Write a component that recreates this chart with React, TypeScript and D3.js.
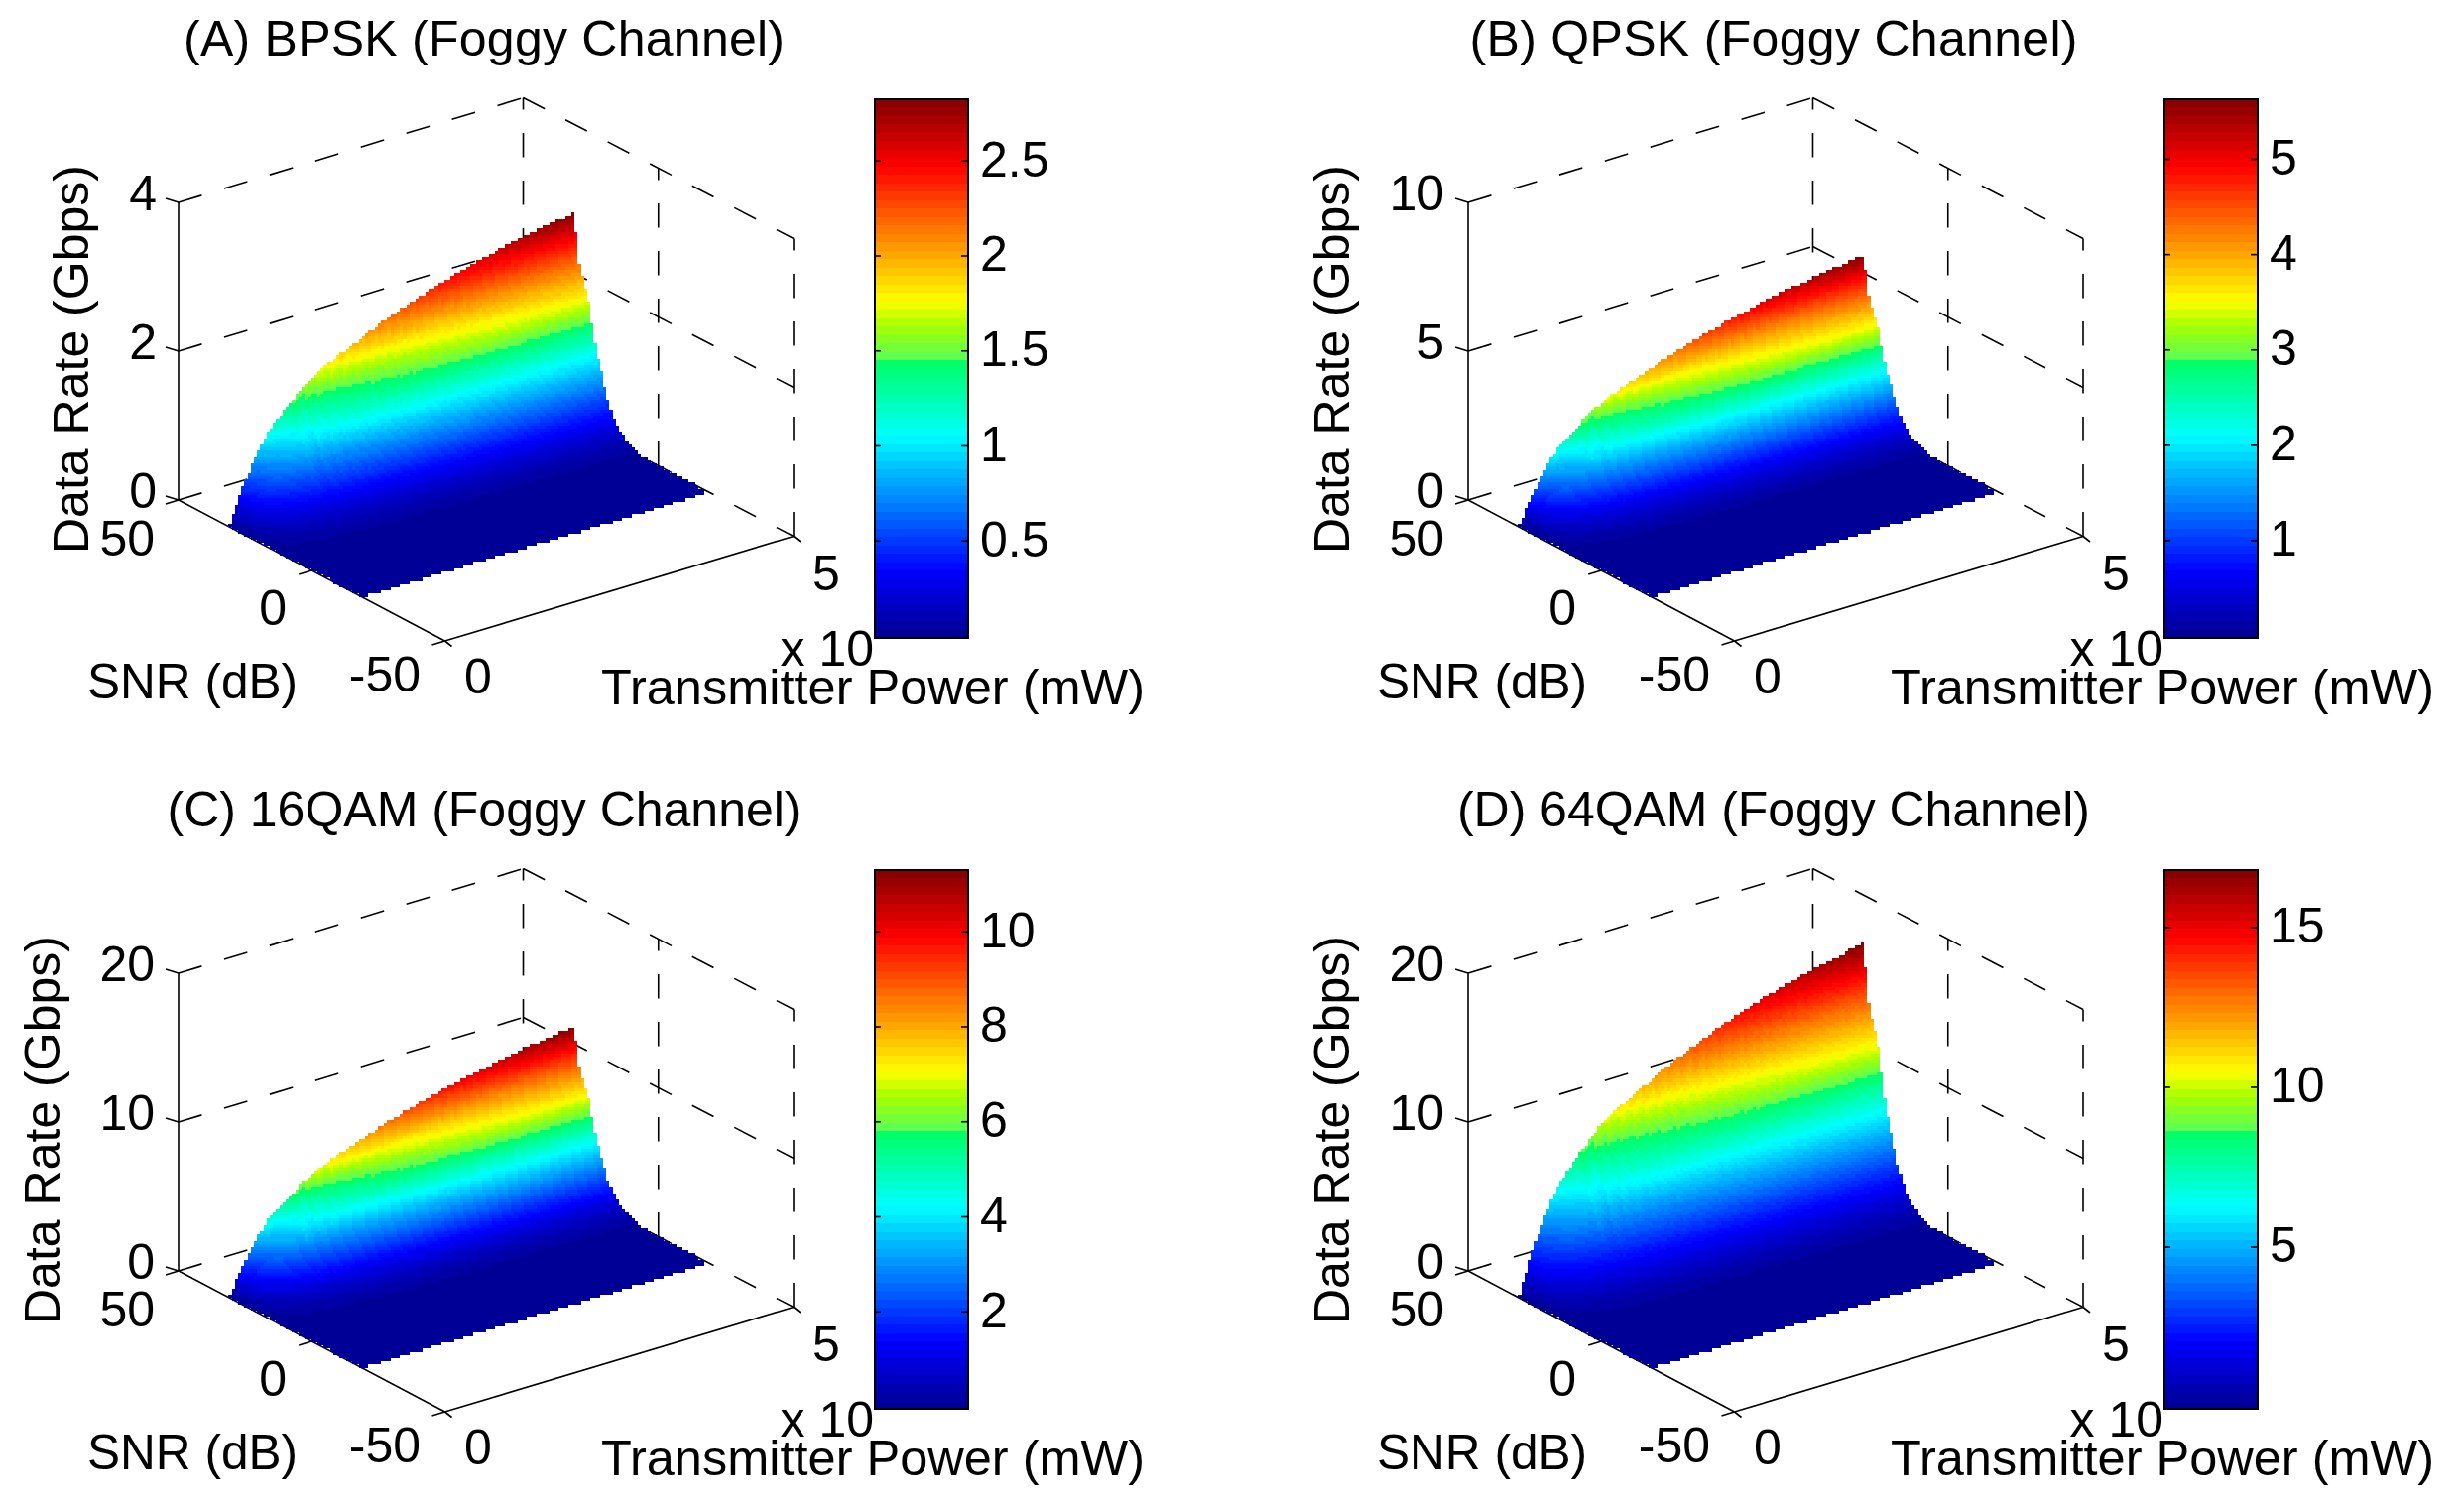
import React from "react";
import * as d3 from "d3";

// ---- chart data ----
const panelTitles = [
  "(A) BPSK (Foggy Channel)",
  "(B) QPSK (Foggy Channel)",
  "(C) 16QAM (Foggy Channel)",
  "(D) 64QAM (Foggy Channel)",
];
const titleWidths = [606, 613, 639, 638];
const peakRates = [2.82, 5.62, 11.2, 16.8];
const barLimits = [2.825, 5.63, 11.3, 16.8];
const zLimits = [4, 10, 20, 20];
const zTicks = [[0, 2, 4], [0, 5, 10], [0, 10, 20], [0, 10, 20]];
const barTicks = [
  [0.5, 1, 1.5, 2, 2.5],
  [1, 2, 3, 4, 5],
  [2, 4, 6, 8, 10],
  [5, 10, 15],
];
const snrTicks = [50, 0, -50];
const powerTicks = [0, 5];
const snrRange = [31, -19];
const powerRange = [0, 5];
// relative rate along the power axis at the highest SNR
const powerProfile = [
  0, 0.16, 0.28, 0.385, 0.45, 0.505, 0.562, 0.6, 0.635, 0.663, 0.69, 0.715, 0.745, 0.768, 0.79,
  0.812, 0.833, 0.853, 0.87, 0.888, 0.904, 0.92, 0.933, 0.946, 0.958, 0.969, 0.98, 0.99, 1,
];
// relative rate along the SNR axis at the highest power
const snrProfile = [
  1, 0.8, 0.73, 0.68, 0.635, 0.53, 0.43, 0.36, 0.3, 0.235, 0.18, 0.14, 0.11, 0.082, 0.063, 0.048,
  0.035, 0.025, 0.017, 0.012, 0.008, 0.006, 0.004, 0.003, 0.002, 0.0015, 0.001, 0.001, 0.0008,
  0.0006, 0.0005, 0.0004, 0.0003, 0.0003, 0.0002, 0.0002, 0.0001, 0.0001, 0.0001, 0, 0,
];
// colour map stops
const colorStops = [0, 0.125, 0.375, 0.5165, 0.5166, 0.58, 0.625, 0.875, 1];
const colorValues = ["#00008f", "#0000ff", "#00ffff", "#00ff60", "#58ff58", "#a8ff00", "#ffff00", "#ff0000", "#800000"];
const levelCount = 64;

// ---- layout ----
const panelOffsets: [number, number][] = [[0, 0], [1300, 0], [0, 777], [1300, 777]];
const floorLeft: [number, number] = [180, 504];
const floorFront: [number, number] = [448.5, 646];
const floorRight: [number, number] = [800, 540.5];
const floorBack: [number, number] = [527.5, 398.5];
const boxHeight = 300;
const bar = { x: 882, w: 94, top: 100, bottom: 643 };
const barZeroY = 641;
const pitch = 3.2;
const facetFlatten = 0.3;
const smoothColumns = 5;
const FONT = "'Liberation Sans', Arial, sans-serif";
const FS = 50;
const LW = 1.6;
const DASH = "24.5 23.5";

const jet = d3.scaleLinear<string>().domain(colorStops).range(colorValues).interpolate(d3.interpolateRgb);
const levels = d3.range(levelCount).map((i) => jet((i + 0.5) / levelCount));

const uScale = d3.scaleLinear().domain([50, -50]).range([0, 1]);
const vScale = d3.scaleLinear().domain([0, 5]).range([0, 1]);
const lerp = (a: [number, number], b: [number, number], t: number): [number, number] => [
  a[0] + (b[0] - a[0]) * t,
  a[1] + (b[1] - a[1]) * t,
];
function project(snr: number, power: number, z: number, zMax: number): [number, number] {
  const u = uScale(snr);
  const v = vScale(power);
  const near = lerp(floorLeft, floorFront, u);
  const far = lerp(floorBack, floorRight, u);
  const p = lerp(near, far, v);
  const zy = d3.scaleLinear().domain([0, zMax]).range([0, boxHeight]);
  return [p[0], p[1] - zy(z)];
}

function surfacePaths(peak: number, zMax: number) {
  const snrAt = d3.scaleLinear().domain([0, snrProfile.length - 1]).range(snrRange);
  const powerAt = d3.scaleLinear().domain([0, powerProfile.length - 1]).range(powerRange);
  const colorIndex = d3.scaleQuantize<number>().domain([0, peak]).range(d3.range(levelCount));
  const zAt = (i: number, j: number) => peak * powerProfile[i] * snrProfile[j];
  const cols = Math.ceil(820 / pitch);
  const rows = Math.ceil(660 / pitch);
  const grid = new Int16Array(cols * rows).fill(-1);
  for (let j = 0; j < snrProfile.length - 1; j++) {
    for (let i = powerProfile.length - 2; i >= 0; i--) {
      const a = project(snrAt(j), powerAt(i), zAt(i, j), zMax);
      const b = project(snrAt(j), powerAt(i + 1), zAt(i + 1, j), zMax);
      const c = project(snrAt(j + 1), powerAt(i + 1), zAt(i + 1, j + 1), zMax);
      const d = project(snrAt(j + 1), powerAt(i), zAt(i, j + 1), zMax);
      const poly: [number, number][] = [a, b, c, d];
      const xs = poly.map((p) => p[0]);
      const ys = poly.map((p) => p[1]);
      const c0 = Math.max(0, Math.floor(d3.min(xs)! / pitch));
      const c1 = Math.min(cols - 1, Math.ceil(d3.max(xs)! / pitch));
      const r0 = Math.max(0, Math.floor(d3.min(ys)! / pitch));
      const r1 = Math.min(rows - 1, Math.ceil(d3.max(ys)! / pitch));
      const flatten = i < smoothColumns ? 1 : facetFlatten;
      for (let r = r0; r <= r1; r++) {
        for (let col = c0; col <= c1; col++) {
          const px = (col + 0.5) * pitch;
          const py = (r + 0.5) * pitch;
          if (!d3.polygonContains(poly, [px, py])) continue;
          let s = 0.5;
          let t = 0.5;
          for (let k = 0; k < 4; k++) {
            const xL = a[0] + (d[0] - a[0]) * t;
            const xR = b[0] + (c[0] - b[0]) * t;
            s = Math.min(1, Math.max(0, (px - xL) / (xR - xL)));
            const yT = a[1] + (b[1] - a[1]) * s;
            const yB = d[1] + (c[1] - d[1]) * s;
            t = Math.min(1, Math.max(0, (py - yT) / (yB - yT || 1)));
          }
          const sf = 0.5 + (s - 0.5) * flatten;
          const zTop = zAt(i, j) + (zAt(i + 1, j) - zAt(i, j)) * sf;
          const zBot = zAt(i, j + 1) + (zAt(i + 1, j + 1) - zAt(i, j + 1)) * sf;
          const z = zTop + (zBot - zTop) * t;
          grid[r * cols + col] = colorIndex(Math.min(z, peak * 0.9999));
        }
      }
    }
  }
  const paths: string[] = levels.map(() => "");
  for (let r = 0; r < rows; r++) {
    const y0 = Math.round(r * pitch);
    const y1 = Math.round((r + 1) * pitch);
    let c = 0;
    while (c < cols) {
      const lvl = grid[r * cols + c];
      let e = c + 1;
      while (e < cols && grid[r * cols + e] === lvl) e++;
      if (lvl >= 0) {
        const x0 = Math.round(c * pitch);
        const x1 = Math.round(e * pitch);
        paths[lvl] += `M${x0} ${y0}H${x1}V${y1}H${x0}Z`;
      }
      c = e;
    }
  }
  return paths;
}

function Seg({ a, b, dashed }: { a: [number, number]; b: [number, number]; dashed?: boolean }) {
  return (
    <line
      x1={a[0]}
      y1={a[1]}
      x2={b[0]}
      y2={b[1]}
      stroke="#000"
      strokeWidth={LW}
      strokeDasharray={dashed ? DASH : undefined}
    />
  );
}

function Panel({ index }: { index: number }) {
  const peak = peakRates[index];
  const zMax = zLimits[index];
  const [dx, dy] = panelOffsets[index];
  const P = (s: number, p: number, z: number) => project(s, p, z, zMax);
  const paths = surfacePaths(peak, zMax);
  const barY = d3.scaleLinear().domain([0, barLimits[index]]).range([barZeroY, bar.top]);
  const [pMin, pMax] = [powerTicks[0], powerTicks[1]];
  const [sHi, sMid, sLo] = snrTicks;
  const zLabelX = index === 0 ? 89 : 60;
  const bandH = (bar.bottom - bar.top) / levelCount;
  const txt = { fontFamily: FONT, fontSize: FS, fill: "#000" };

  return (
    <g transform={`translate(${dx},${dy})`}>
      <text x={488} y={56} textAnchor="middle" {...txt} textLength={titleWidths[index]} lengthAdjust="spacing">
        {panelTitles[index]}
      </text>

      {/* box grid */}
      {zTicks[index].map((z) => (
        <g key={z}>
          <Seg a={P(sHi, pMin, z)} b={P(sHi, pMax, z)} dashed />
          <Seg a={P(sHi, pMax, z)} b={P(sLo, pMax, z)} dashed />
        </g>
      ))}
      <Seg a={P(sHi, pMax, 0)} b={P(sHi, pMax, zMax)} dashed />
      <Seg a={P(sMid, pMax, 0)} b={P(sMid, pMax, zMax)} dashed />
      <Seg a={P(sLo, pMax, 0)} b={P(sLo, pMax, zMax)} dashed />
      <Seg a={P(sMid, pMin, 0)} b={P(sMid, pMax, 0)} dashed />

      {/* axes */}
      <Seg a={P(sHi, pMin, 0)} b={P(sHi, pMin, zMax)} />
      <Seg a={P(sHi, pMin, 0)} b={P(sLo, pMin, 0)} />
      <Seg a={P(sLo, pMin, 0)} b={P(sLo, pMax, 0)} />

      {/* surface */}
      <g shapeRendering="crispEdges">
        {paths.map((d, i) => (d ? <path key={i} d={d} fill={levels[i]} /> : null))}
      </g>

      {/* ticks */}
      {zTicks[index].map((z) => {
        const a = P(sHi, pMin, z);
        return <Seg key={z} a={a} b={[a[0] - 13, a[1] - 4]} />;
      })}
      {snrTicks.map((s) => {
        const a = P(s, pMin, 0);
        return <Seg key={s} a={a} b={[a[0] - 13, a[1] + 4]} />;
      })}
      {powerTicks.map((p) => {
        const a = P(sLo, p, 0);
        return <Seg key={p} a={a} b={[a[0] + 7, a[1] + 5.5]} />;
      })}

      {/* tick labels */}
      {zTicks[index].map((z) => (
        <text key={z} x={index === 0 ? 158 : 156} y={P(sHi, pMin, z)[1] + 8} textAnchor="end" {...txt}>
          {z}
        </text>
      ))}
      <text x={156} y={560} textAnchor="end" {...txt}>{sHi}</text>
      <text x={289} y={630} textAnchor="end" {...txt}>{sMid}</text>
      <text x={424} y={697} textAnchor="end" {...txt}>{sLo}</text>
      <text x={482} y={699} textAnchor="middle" {...txt}>{pMin}</text>
      <text x={833} y={595} textAnchor="middle" {...txt}>{pMax}</text>
      <text x={881} y={671} textAnchor="end" {...txt}>x 10</text>

      {/* axis labels */}
      <text transform={`translate(${zLabelX},362) rotate(-90)`} textAnchor="middle" {...txt} textLength={392} lengthAdjust="spacingAndGlyphs">Data Rate (Gbps)</text>
      <text x={194} y={704} textAnchor="middle" {...txt} textLength={212} lengthAdjust="spacingAndGlyphs">SNR (dB)</text>
      <text x={880} y={710} textAnchor="middle" {...txt} textLength={548} lengthAdjust="spacingAndGlyphs">Transmitter Power (mW)</text>

      {/* colour bar */}
      <g shapeRendering="crispEdges">
        {levels.map((c, i) => (
          <rect
            key={i}
            x={bar.x}
            y={Math.round(bar.bottom - (i + 1) * bandH)}
            width={bar.w}
            height={Math.round(bar.bottom - i * bandH) - Math.round(bar.bottom - (i + 1) * bandH)}
            fill={c}
          />
        ))}
      </g>
      <rect x={bar.x} y={bar.top} width={bar.w} height={bar.bottom - bar.top} fill="none" stroke="#000" strokeWidth={2} />
      {barTicks[index].map((t) => (
        <g key={t}>
          <Seg a={[bar.x, barY(t)]} b={[bar.x + 6, barY(t)]} />
          <Seg a={[bar.x + bar.w - 7, barY(t)]} b={[bar.x + bar.w, barY(t)]} />
          <text x={988} y={barY(t) + 15.5} {...txt}>{t}</text>
        </g>
      ))}
    </g>
  );
}

export default function App() {
  return (
    <svg
      width={2484}
      height={1520}
      viewBox="0 0 2484 1520"
      style={{ position: "absolute", left: 0, top: 0, background: "#fff", display: "block" }}
    >
      {panelTitles.map((_, i) => (
        <Panel key={i} index={i} />
      ))}
    </svg>
  );
}
